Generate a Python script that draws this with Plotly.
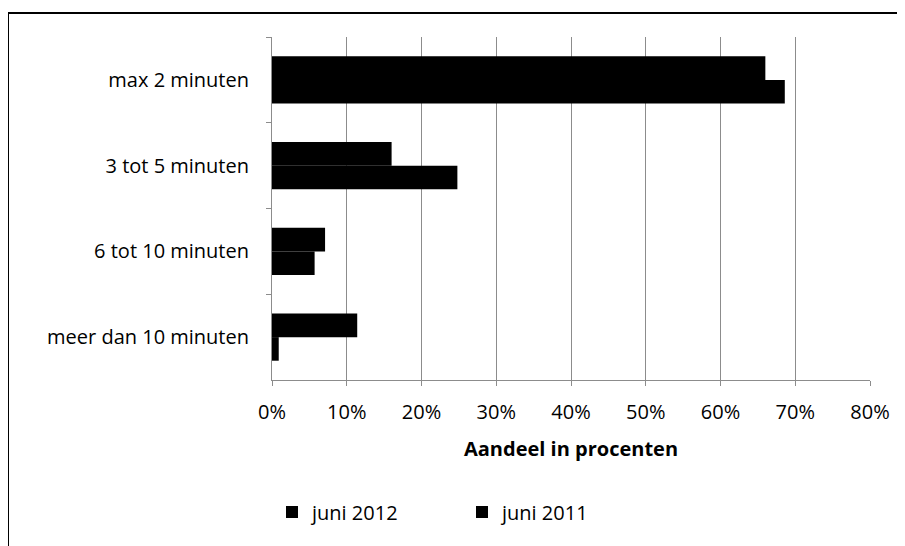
import plotly.graph_objects as go

# categories, top to bottom
categories = ["max 2 minuten", "3 tot 5 minuten", "6 tot 10 minuten", "meer dan 10 minuten"]

# share in percent
juni_2012 = [66.0, 16.0, 7.1, 11.4]
juni_2011 = [68.6, 24.8, 5.7, 0.9]

tick_vals = [0, 10, 20, 30, 40, 50, 60, 70, 80]
tick_text = ["0%", "10%", "20%", "30%", "40%", "50%", "60%", "70%", "80%"]

fig = go.Figure()
fig.add_trace(go.Bar(y=categories, x=juni_2012, orientation="h", name="juni 2012",
                     marker=dict(color="black", line=dict(width=0))))
fig.add_trace(go.Bar(y=categories, x=juni_2011, orientation="h", name="juni 2011",
                     marker=dict(color="black", line=dict(width=0))))

# frame around the chart: only the top and left edges fall inside the picture
frame_left = (0 - 264) / 598
frame_top = (372 - 5) / 343

# page body has an 8px margin, so the figure sits at (8, 8) in the window
fig.update_layout(
    width=897,
    height=538,
    barmode="group",
    bargap=0.45,
    bargroupgap=0,
    plot_bgcolor="white",
    paper_bgcolor="white",
    font=dict(family="Open Sans, sans-serif", size=20, color="black"),
    margin=dict(l=264, r=35, t=29, b=166, autoexpand=False),
    showlegend=True,
    legend=dict(orientation="h", x=0.0, xanchor="left", y=-0.385, yanchor="middle",
                font=dict(size=20), traceorder="normal", itemwidth=30,
                entrywidth=145),
    xaxis=dict(
        range=[0, 80],
        tickvals=tick_vals,
        ticktext=tick_text,
        showgrid=True,
        gridcolor="#8c8c8c",
        gridwidth=1,
        showline=True,
        linecolor="#8c8c8c",
        ticks="outside",
        ticklen=5,
        tickcolor="#8c8c8c",
        ticklabelstandoff=9,
        zeroline=False,
        title=dict(text="<b>Aandeel in procenten</b>", font=dict(size=20), standoff=17),
    ),
    yaxis=dict(
        autorange="reversed",
        showline=True,
        linecolor="#8c8c8c",
        ticks="outside",
        ticklen=5,
        tickcolor="#8c8c8c",
        tickson="boundaries",
        ticklabelstandoff=18,
        showgrid=False,
    ),
    shapes=[
        dict(type="line", xref="paper", yref="paper", x0=frame_left, x1=1.2,
             y0=frame_top, y1=frame_top, line=dict(color="black", width=2)),
        dict(type="line", xref="paper", yref="paper", x0=frame_left, x1=frame_left,
             y0=-0.6, y1=frame_top, line=dict(color="black", width=2)),
    ],
)

fig.write_html("out.html", config={"displayModeBar": False})
